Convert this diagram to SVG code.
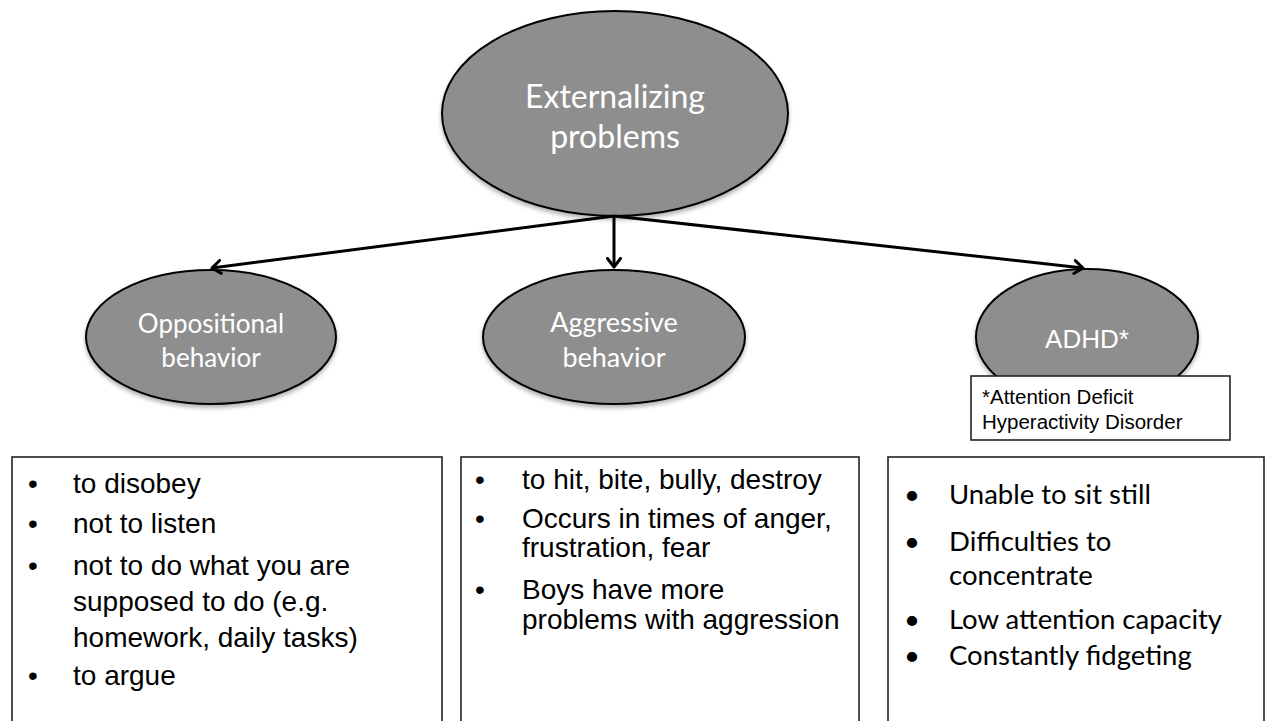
<svg xmlns="http://www.w3.org/2000/svg" width="1266" height="721" viewBox="0 0 1266 721">
  <style>
    .ell { fill: #8e8e8e; stroke: #000; stroke-width: 2; }
    .etxt { font-family: Lato, "Open Sans", "Liberation Sans", sans-serif; fill: #fff; text-anchor: middle; }
    .box { fill: #fff; stroke: #222; stroke-width: 1.6; }
    .arial { font-family: "Liberation Sans", Arial, sans-serif; fill: #000; }
    .cal { font-family: Lato, "Open Sans", "Liberation Sans", sans-serif; fill: #000; }
    .conn { stroke: #000; stroke-width: 3; fill: none; }
  </style>
  <defs>
    <filter id="shadow" x="-10%" y="-10%" width="120%" height="130%">
      <feDropShadow dx="0" dy="3" stdDeviation="2" flood-color="#000" flood-opacity="0.3"/>
    </filter>
    <marker id="arrow" viewBox="0 0 12 16" refX="10" refY="8" markerWidth="12" markerHeight="16" markerUnits="userSpaceOnUse" orient="auto">
      <path d="M1.5,1.5 L10,8 L1.5,14.5" fill="none" stroke="#000" stroke-width="3" stroke-linecap="round" stroke-linejoin="round"/>
    </marker>
  </defs>
  <rect width="1266" height="721" fill="#fff"/>

  <g id="node-externalizing">
    <ellipse class="ell" cx="615" cy="113.5" rx="173" ry="102.5" filter="url(#shadow)"/>
    <text class="etxt" font-size="32" x="615" y="108">Externalizing</text>
    <text class="etxt" font-size="32" x="615" y="148">problems</text>
  </g>

  <g id="node-oppositional">
    <ellipse class="ell" cx="211" cy="337" rx="125" ry="67" filter="url(#shadow)"/>
    <text class="etxt" font-size="26" x="211" y="333">Oppositional</text>
    <text class="etxt" font-size="26" x="211" y="367">behavior</text>
  </g>

  <g id="node-aggressive">
    <ellipse class="ell" cx="614" cy="337" rx="131" ry="67" filter="url(#shadow)"/>
    <text class="etxt" font-size="27" x="614" y="332">Aggressive</text>
    <text class="etxt" font-size="27" x="614" y="367">behavior</text>
  </g>

  <g id="node-adhd">
    <ellipse class="ell" cx="1087" cy="337" rx="111" ry="68" filter="url(#shadow)"/>
    <text font-family="Liberation Sans, Arial, sans-serif" fill="#fff" text-anchor="middle" font-size="26" x="1087" y="348">ADHD*</text>
  </g>

  <g id="note-adhd">
    <rect class="box" x="971" y="376" width="259" height="64"/>
    <text class="arial" font-size="20.5" x="982" y="404">*Attention Deficit</text>
    <text class="arial" font-size="20.5" x="982" y="429">Hyperactivity Disorder</text>
  </g>

  <g id="connectors">
    <line class="conn" x1="614" y1="216" x2="212" y2="268" marker-end="url(#arrow)"/>
    <line class="conn" x1="614" y1="216" x2="614" y2="267" marker-end="url(#arrow)"/>
    <line class="conn" x1="614" y1="216" x2="1083" y2="268" marker-end="url(#arrow)"/>
  </g>

  <g id="box-oppositional">
    <rect class="box" x="12" y="457" width="430" height="280"/>
    <g class="arial" font-size="28">
      <text x="28" y="493">•</text><text x="73" y="493">to disobey</text>
      <text x="28" y="533">•</text><text x="73" y="533">not to listen</text>
      <text x="28" y="575">•</text><text x="73" y="575">not to do what you are</text>
      <text x="73" y="611">supposed to do (e.g.</text>
      <text x="73" y="647">homework, daily tasks)</text>
      <text x="28" y="685">•</text><text x="73" y="685">to argue</text>
    </g>
  </g>

  <g id="box-aggressive">
    <rect class="box" x="461" y="457" width="398" height="280"/>
    <g class="arial" font-size="28">
      <text x="475" y="489">•</text><text x="522" y="489">to hit, bite, bully, destroy</text>
      <text x="475" y="528">•</text><text x="522" y="528">Occurs in times of anger,</text>
      <text x="522" y="557">frustration, fear</text>
      <text x="475" y="599">•</text><text x="522" y="599">Boys have more</text>
      <text x="522" y="629">problems with aggression</text>
    </g>
  </g>

  <g id="box-adhd">
    <rect class="box" x="888" y="457" width="376" height="280"/>
    <g class="cal" font-size="27.5">
      <text x="904" y="504">•</text><text x="949" y="504">Unable to sit still</text>
      <text x="904" y="551">•</text><text x="949" y="551">Difficulties to</text>
      <text x="949" y="585">concentrate</text>
      <text x="904" y="629">•</text><text x="949" y="629">Low attention capacity</text>
      <text x="904" y="665">•</text><text x="949" y="665">Constantly fidgeting</text>
    </g>
  </g>
</svg>
